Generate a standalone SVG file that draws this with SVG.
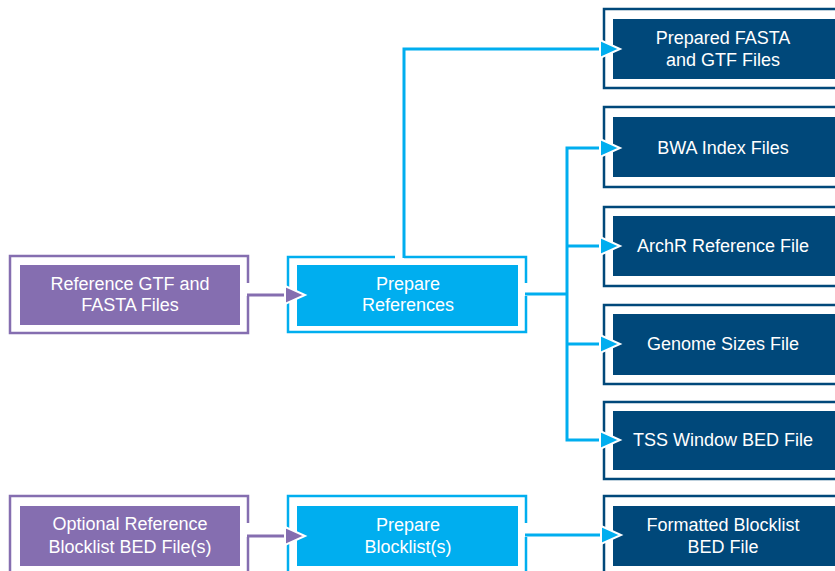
<svg xmlns="http://www.w3.org/2000/svg" xmlns:xlink="http://www.w3.org/1999/xlink" width="835" height="571" viewBox="0 0 835 571">
<style>
.fr{fill:none;stroke-width:2.5}
.fp{stroke:#856EB0}.fb{stroke:#00AEEF}.fn{stroke:#00487A}
.ip{fill:#856EB0}.ib{fill:#00AEEF}.in{fill:#00487A}
.cb{fill:none;stroke:#00AEEF;stroke-width:3}
.cp{fill:none;stroke:#856EB0;stroke-width:3}
text{font-family:"Liberation Sans",Arial,sans-serif;font-size:18px;fill:#fff;text-anchor:middle}
</style>
<defs>
<polygon id="ahb" points="-20,-9 0,0 -20,9" fill="#00AEEF" stroke="#fff" stroke-width="2" stroke-linejoin="miter"/>
<polygon id="ahp" points="-20,-9 0,0 -20,9" fill="#856EB0" stroke="#fff" stroke-width="2" stroke-linejoin="miter"/>
</defs>
<rect width="835" height="571" fill="#fff"/>

<g id="ref-inputs">
<path class="fr fp" d="M248,283 V256 H10 V333 H248 V296"/>
<rect class="ip" x="20" y="265" width="220" height="60"/>
<text x="130" y="289.5">Reference GTF and</text>
<text x="130" y="311">FASTA Files</text>
</g>

<g id="prepare-references">
<path class="fr fb" d="M395,257 H288 V332 H526 V296 M404,257 H526 V283"/>
<rect class="ib" x="297" y="265" width="221" height="61"/>
<text x="408" y="289.5">Prepare</text>
<text x="408" y="311">References</text>
</g>

<g id="prepared-fasta">
<path class="fr fn" d="M840,9 H604 V88 H840"/>
<rect class="in" x="613" y="19" width="230" height="60"/>
<text x="723" y="44">Prepared FASTA</text>
<text x="723" y="65.5">and GTF Files</text>
</g>

<g id="bwa-index">
<path class="fr fn" d="M840,107 H604 V187 H840"/>
<rect class="in" x="613" y="117" width="230" height="60"/>
<text x="723" y="153.5">BWA Index Files</text>
</g>

<g id="archr-reference">
<path class="fr fn" d="M840,207 H604 V286 H840"/>
<rect class="in" x="613" y="216" width="230" height="60"/>
<text x="723" y="252">ArchR Reference File</text>
</g>

<g id="genome-sizes">
<path class="fr fn" d="M840,305 H604 V384 H840"/>
<rect class="in" x="613" y="314" width="230" height="61"/>
<text x="723" y="350">Genome Sizes File</text>
</g>

<g id="tss-window">
<path class="fr fn" d="M840,402 H604 V479 H840"/>
<rect class="in" x="613" y="411" width="230" height="59"/>
<text x="723" y="446">TSS Window BED File</text>
</g>

<g id="blocklist-inputs">
<path class="fr fp" d="M248,523 V496 H10 V580 M248,580 V537"/>
<rect class="ip" x="20" y="506" width="220" height="60"/>
<text x="130" y="530">Optional Reference</text>
<text x="130" y="553">Blocklist BED File(s)</text>
</g>

<g id="prepare-blocklists">
<path class="fr fb" d="M526,523 V496 H288 V580 M526,580 V537"/>
<rect class="ib" x="297" y="506" width="221" height="60"/>
<text x="408" y="531">Prepare</text>
<text x="408" y="553">Blocklist(s)</text>
</g>

<g id="formatted-blocklist">
<path class="fr fn" d="M840,496 H604 V580"/>
<rect class="in" x="613" y="506" width="230" height="60"/>
<text x="723" y="531">Formatted Blocklist</text>
<text x="723" y="553">BED File</text>
</g>

<g id="connectors">
<path class="cp" d="M247,295 H290"/>
<use href="#ahp" x="305" y="295"/>
<path class="cb" d="M404,258 V49 H603"/>
<use href="#ahb" x="620" y="49"/>
<path class="cb" d="M525,294 H567 M603,148 H567 V440 H603 M567,246 H603 M567,344 H603"/>
<use href="#ahb" x="620" y="148"/>
<use href="#ahb" x="620" y="246"/>
<use href="#ahb" x="620" y="344"/>
<use href="#ahb" x="620" y="440"/>
<path class="cp" d="M247,536 H290"/>
<use href="#ahp" x="305" y="536"/>
<path class="cb" d="M525,535 H603"/>
<use href="#ahb" x="621" y="535"/>
</g>
</svg>
